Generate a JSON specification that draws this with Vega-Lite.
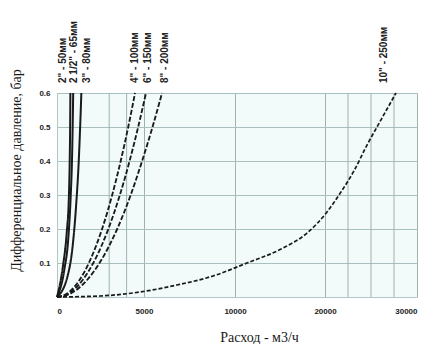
{
  "$schema": "https://vega.github.io/schema/vega-lite/v6.json",
  "width": 361,
  "height": 204,
  "autosize": {"type": "none"},
  "padding": {"left": 57, "top": 93, "right": 10, "bottom": 47},
  "background": "white",
  "config": {
    "view": {"fill": "#f2fafa", "stroke": null},
    "font": "Liberation Sans",
    "axisX": {
      "titleFont": "Liberation Serif",
      "titleFontSize": 14,
      "titleFontWeight": "normal",
      "titleColor": "#1a1a1a",
      "titleX": 202,
      "titleY": 40,
      "titleBaseline": "middle",
      "labelFontSize": 8,
      "labelFontWeight": "bold",
      "labelColor": "#222",
      "labelPadding": 10,
      "ticks": false,
      "grid": true,
      "gridColor": "#9fb2b2",
      "domainColor": "#b5c6c6"
    },
    "axisY": {
      "titleFont": "Liberation Serif",
      "titleFontSize": 14,
      "titleFontWeight": "normal",
      "titleColor": "#1a1a1a",
      "titleX": -41,
      "titleY": 77,
      "titleAlign": "center",
      "titleBaseline": "middle",
      "titleAngle": -90,
      "labelFontSize": 8,
      "labelFontWeight": "bold",
      "labelColor": "#222",
      "labelPadding": 7,
      "ticks": false,
      "grid": true,
      "gridColor": "#a9c0c0",
      "domainColor": "#b5c6c6"
    }
  },
  "datasets": {
    "curves": [
      {"series": "2\"", "style": "solid", "x": 0, "y": 0},
      {"series": "2\"", "style": "solid", "x": 340, "y": 0.09},
      {"series": "2\"", "style": "solid", "x": 560, "y": 0.19},
      {"series": "2\"", "style": "solid", "x": 680, "y": 0.29},
      {"series": "2\"", "style": "solid", "x": 730, "y": 0.4},
      {"series": "2\"", "style": "solid", "x": 755, "y": 0.5},
      {"series": "2\"", "style": "solid", "x": 770, "y": 0.6},
      {"series": "2 1/2\"", "style": "solid", "x": 0, "y": 0},
      {"series": "2 1/2\"", "style": "solid", "x": 420, "y": 0.08},
      {"series": "2 1/2\"", "style": "solid", "x": 660, "y": 0.18},
      {"series": "2 1/2\"", "style": "solid", "x": 790, "y": 0.3},
      {"series": "2 1/2\"", "style": "solid", "x": 860, "y": 0.4},
      {"series": "2 1/2\"", "style": "solid", "x": 900, "y": 0.5},
      {"series": "2 1/2\"", "style": "solid", "x": 930, "y": 0.6},
      {"series": "3\"", "style": "solid", "x": 0, "y": 0},
      {"series": "3\"", "style": "solid", "x": 600, "y": 0.06},
      {"series": "3\"", "style": "solid", "x": 900, "y": 0.15},
      {"series": "3\"", "style": "solid", "x": 1100, "y": 0.27},
      {"series": "3\"", "style": "solid", "x": 1250, "y": 0.4},
      {"series": "3\"", "style": "solid", "x": 1330, "y": 0.5},
      {"series": "3\"", "style": "solid", "x": 1400, "y": 0.6},
      {"series": "4\"", "style": "dash", "x": 0, "y": 0},
      {"series": "4\"", "style": "dash", "x": 579, "y": 0.01},
      {"series": "4\"", "style": "dash", "x": 1083, "y": 0.035},
      {"series": "4\"", "style": "dash", "x": 1295, "y": 0.05},
      {"series": "4\"", "style": "dash", "x": 1831, "y": 0.1},
      {"series": "4\"", "style": "dash", "x": 2243, "y": 0.15},
      {"series": "4\"", "style": "dash", "x": 2589, "y": 0.2},
      {"series": "4\"", "style": "dash", "x": 2895, "y": 0.25},
      {"series": "4\"", "style": "dash", "x": 3171, "y": 0.3},
      {"series": "4\"", "style": "dash", "x": 3662, "y": 0.4},
      {"series": "4\"", "style": "dash", "x": 4094, "y": 0.5},
      {"series": "4\"", "style": "dash", "x": 4485, "y": 0.6},
      {"series": "6\"", "style": "dash", "x": 0, "y": 0},
      {"series": "6\"", "style": "dash", "x": 659, "y": 0.01},
      {"series": "6\"", "style": "dash", "x": 1234, "y": 0.035},
      {"series": "6\"", "style": "dash", "x": 1475, "y": 0.05},
      {"series": "6\"", "style": "dash", "x": 2086, "y": 0.1},
      {"series": "6\"", "style": "dash", "x": 2555, "y": 0.15},
      {"series": "6\"", "style": "dash", "x": 2950, "y": 0.2},
      {"series": "6\"", "style": "dash", "x": 3298, "y": 0.25},
      {"series": "6\"", "style": "dash", "x": 3613, "y": 0.3},
      {"series": "6\"", "style": "dash", "x": 4172, "y": 0.4},
      {"series": "6\"", "style": "dash", "x": 4665, "y": 0.5},
      {"series": "6\"", "style": "dash", "x": 5110, "y": 0.6},
      {"series": "8\"", "style": "dash", "x": 0, "y": 0},
      {"series": "8\"", "style": "dash", "x": 773, "y": 0.01},
      {"series": "8\"", "style": "dash", "x": 1447, "y": 0.035},
      {"series": "8\"", "style": "dash", "x": 1729, "y": 0.05},
      {"series": "8\"", "style": "dash", "x": 2445, "y": 0.1},
      {"series": "8\"", "style": "dash", "x": 2995, "y": 0.15},
      {"series": "8\"", "style": "dash", "x": 3458, "y": 0.2},
      {"series": "8\"", "style": "dash", "x": 3866, "y": 0.25},
      {"series": "8\"", "style": "dash", "x": 4236, "y": 0.3},
      {"series": "8\"", "style": "dash", "x": 4891, "y": 0.4},
      {"series": "8\"", "style": "dash", "x": 5468, "y": 0.5},
      {"series": "8\"", "style": "dash", "x": 5990, "y": 0.6},
      {"series": "10\"", "style": "fine", "x": 0, "y": 0},
      {"series": "10\"", "style": "fine", "x": 2471, "y": 0.003},
      {"series": "10\"", "style": "fine", "x": 4770, "y": 0.0147},
      {"series": "10\"", "style": "fine", "x": 6813, "y": 0.0353},
      {"series": "10\"", "style": "fine", "x": 8792, "y": 0.0618},
      {"series": "10\"", "style": "fine", "x": 11333, "y": 0.1},
      {"series": "10\"", "style": "fine", "x": 15111, "y": 0.141},
      {"series": "10\"", "style": "fine", "x": 18000, "y": 0.188},
      {"series": "10\"", "style": "fine", "x": 20217, "y": 0.25},
      {"series": "10\"", "style": "fine", "x": 21739, "y": 0.309},
      {"series": "10\"", "style": "fine", "x": 23152, "y": 0.371},
      {"series": "10\"", "style": "fine", "x": 24565, "y": 0.447},
      {"series": "10\"", "style": "fine", "x": 26087, "y": 0.521},
      {"series": "10\"", "style": "fine", "x": 27717, "y": 0.6}
    ],
    "labels": [
      {"label": "2\" - 50мм", "x": 345, "y": 0.6},
      {"label": "2 1/2\" - 65мм", "x": 977, "y": 0.6},
      {"label": "3\" - 80мм", "x": 1724, "y": 0.6},
      {"label": "4\" - 100мм", "x": 4483, "y": 0.6},
      {"label": "6\" - 150мм", "x": 5220, "y": 0.6},
      {"label": "8\" - 200мм", "x": 6154, "y": 0.6},
      {"label": "10\" - 250мм", "x": 26413, "y": 0.6}
    ],
    "vgrid": [
      {"x": 3000}, {"x": 4000}, {"x": 22500}, {"x": 25000}, {"x": 27500}
    ]
  },
  "layer": [
    {
      "data": {"name": "vgrid"},
      "mark": {"type": "rule", "color": "#9fb2b2", "strokeWidth": 1},
      "encoding": {
        "x": {
          "field": "x", "type": "quantitative",
          "scale": {"domain": [0, 5000, 10000, 20000, 30000], "range": [0, 87, 178, 268, 360]},
          "title": "Расход - м3/ч",
          "axis": {"values": [0, 5000, 10000, 20000, 30000], "format": "d"}
        }
      }
    },
    {
      "data": {"name": "curves"},
      "mark": {"type": "line", "interpolate": "monotone", "color": "#1a1a1a", "clip": false},
      "encoding": {
        "x": {
          "field": "x", "type": "quantitative",
          "scale": {"domain": [0, 5000, 10000, 20000, 30000], "range": [0, 87, 178, 268, 360]},
          "title": "Расход - м3/ч",
          "axis": {"values": [0, 5000, 10000, 20000, 30000], "format": "d"}
        },
        "y": {
          "field": "y", "type": "quantitative",
          "scale": {"domain": [0, 0.6], "nice": false},
          "title": "Дифференциальное давление, бар",
          "axis": {"values": [0.1, 0.2, 0.3, 0.4, 0.5, 0.6], "format": ".1f"}
        },
        "detail": {"field": "series"},
        "order": {"field": "y", "type": "quantitative"},
        "strokeDash": {
          "field": "style", "type": "nominal",
          "scale": {"domain": ["solid", "dash", "fine"], "range": [[1, 0], [5, 2], [4, 2]]},
          "legend": null
        },
        "strokeWidth": {
          "field": "style", "type": "nominal",
          "scale": {"domain": ["solid", "dash", "fine"], "range": [2, 1.7, 1.5]},
          "legend": null
        }
      }
    },
    {
      "data": {"name": "labels"},
      "mark": {
        "type": "text", "angle": -90, "align": "left", "baseline": "middle",
        "dx": 10, "fontSize": 10, "fontWeight": "bold", "color": "#222",
        "font": "Liberation Sans Narrow, Liberation Sans"
      },
      "encoding": {
        "x": {
          "field": "x", "type": "quantitative",
          "scale": {"domain": [0, 5000, 10000, 20000, 30000], "range": [0, 87, 178, 268, 360]},
          "title": "Расход - м3/ч",
          "axis": {"values": [0, 5000, 10000, 20000, 30000], "format": "d"}
        },
        "y": {
          "field": "y", "type": "quantitative",
          "scale": {"domain": [0, 0.6], "nice": false},
          "title": "Дифференциальное давление, бар",
          "axis": {"values": [0.1, 0.2, 0.3, 0.4, 0.5, 0.6], "format": ".1f"}
        },
        "text": {"field": "label"}
      }
    }
  ]
}
